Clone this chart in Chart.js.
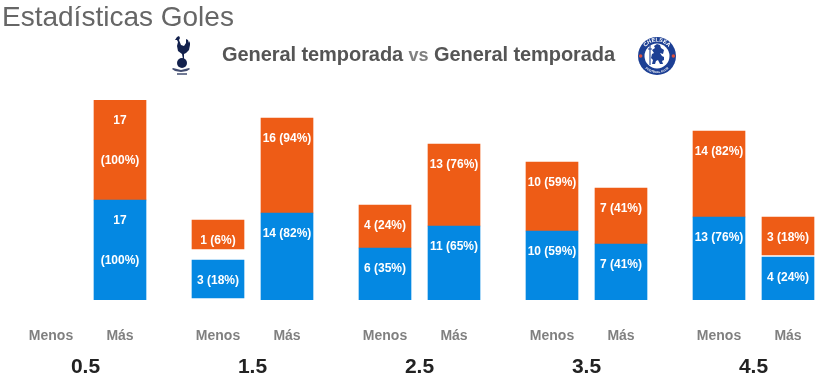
<!DOCTYPE html>
<html lang="es">
<head>
<meta charset="utf-8">
<title>Estadísticas Goles</title>
<script src="https://cdn.jsdelivr.net/npm/chart.js@4"></script>
<style>
html,body{margin:0;padding:0;background:#fff;overflow:hidden}
#wrap{position:relative;width:837px;height:382px;font-family:"Liberation Sans",Arial,sans-serif}
canvas{position:absolute;left:0;top:0}
.t{position:absolute;white-space:nowrap}
#main{left:2px;top:-1px;font-size:28px;line-height:36px;color:#666}
#sub{left:222px;top:42px;font-size:20px;line-height:24px;font-weight:bold;color:#555;letter-spacing:-0.07px}
#sub span{font-size:18px;color:#808080}
svg{position:absolute}
</style>
</head>
<body>
<div id="wrap">
<canvas id="c" width="837" height="382"></canvas>
<div class="t" id="main">Estadísticas Goles</div>
<div class="t" id="sub">General temporada <span>vs</span> General temporada</div>
<svg style="left:170px;top:35px" width="24" height="43" viewBox="0 0 24 43">
  <g fill="#13214d">
    <path d="M7 2l2-1 1 2-1 2 2 5 3 1 2-3 0-4 2 1 1 3 1-2 0 4-1 5-3 3-2 1 0 5h-1l-1-5-4-3-1-5 1-4-1-2-2 0z"/>
    <circle cx="12" cy="28" r="5"/>
    <path d="M3 33l8 2 8-2 1 1-3 2-6 1-6-1-3-2z" opacity=".8"/>
    <rect x="7" y="38" width="10" height="2" opacity=".6"/>
  </g>
</svg>
<svg style="left:637px;top:36px" width="40" height="40" viewBox="0 0 40 40">
  <circle cx="20" cy="20" r="19" fill="#1c3f94"/>
  <circle cx="20" cy="20" r="12.5" fill="#fff"/>
  <defs>
    <path id="arcTop" d="M5.5 20a14.5 14.5 0 0 1 29 0"/>
    <path id="arcBottom" d="M3 20a17 17 0 0 0 34 0"/>
  </defs>
  <text font-family="Liberation Sans" font-size="5.5" font-weight="bold" fill="#fff" text-anchor="middle"><textPath href="#arcTop" startOffset="50%">CHELSEA</textPath></text>
  <text font-family="Liberation Sans" font-size="3" font-weight="bold" fill="#fff" text-anchor="middle"><textPath href="#arcBottom" startOffset="50%">FOOTBALL CLUB</textPath></text>
  <circle cx="3.6" cy="20" r="1.8" fill="#d8503f"/>
  <circle cx="36.4" cy="20" r="1.8" fill="#d8503f"/>
  <path d="M17 10l3-2 3 1 1 3 3 2-1 4-3-1 2 3 2 1 0 3-2 1 1 3-3 0-2-4-2 1-1 3-3 0 1-4-2-2 1-4 2-1-2-3 3-2z" fill="#1c3f94"/>
  <path d="M13 9v20M11 13h4" stroke="#1c3f94" stroke-width="1.1" fill="none"/>
</svg>
</div>
<script>
const groupLabels = ['0.5', '1.5', '2.5', '3.5', '4.5'];
const sideLabels = ['Menos', 'Más'];

const blueCounts   = [null, 17, 3, 14, 6, 11, 10, 7, 13, 4];
const bluePercents = [null, 100, 18, 82, 35, 65, 59, 41, 76, 24];
const blueFrom     = [null, 0, 2, 0, 0, 0, 0, 0, 0, 0];
const blueTo       = [null, 100, 40, 87, 52, 74, 69, 56, 83, 43];

const orangeCounts   = [null, 17, 1, 16, 4, 13, 10, 7, 14, 3];
const orangePercents = [null, 100, 6, 94, 24, 76, 59, 41, 82, 18];
const orangeFrom     = [null, 100, 51, 87, 52, 74, 69, 56, 83, 45];
const orangeTo       = [null, 200, 80, 182, 95, 156, 138, 112, 169, 83];

const BLUE = '#0488e2', ORANGE = '#ee5c16';
const MAS_OFFSET = 69 / 167, GROUP_CENTER = MAS_OFFSET / 2;
const X_MIN = -51 / 167, X_MAX = (837 - 51) / 167;

const slots = groupLabels.flatMap((_, g) => sideLabels.map((_, s) => g + s * MAS_OFFSET));
const sideTicks = slots.map(v => ({ value: v }));
const groupTicks = groupLabels.map((_, g) => ({ value: g + GROUP_CENTER }));

function ranges(from, to) {
  return slots.map((x, i) => to[i] === null ? null : { x, y: [from[i], to[i]] })
              .filter(Boolean);
}
function texts(counts, percents) {
  return counts.map((c, i) => c === null ? null : `${c} (${percents[i]}%)`).filter(Boolean);
}

const barLabels = {
  id: 'barLabels',
  afterDatasetsDraw(chart) {
    const ctx = chart.ctx;
    ctx.save();
    ctx.fillStyle = '#fff';
    ctx.font = 'bold 12px "Liberation Sans", Arial, sans-serif';
    ctx.textAlign = 'center';
    ctx.textBaseline = 'middle';
    chart.data.datasets.forEach((ds, d) => {
      chart.getDatasetMeta(d).data.forEach((bar, i) => {
        const text = ds.valueTexts[i];
        const lines = ctx.measureText(text).width > 52 ? text.split(' ') : [text];
        lines.forEach((line, l) => ctx.fillText(line, bar.x, bar.y + 21 + l * 40));
      });
    });
    ctx.restore();
  }
};

function bottomAxis(ticks, labels, font, color, padding, height) {
  return {
    type: 'linear', position: 'bottom', min: X_MIN, max: X_MAX, offset: false,
    grid: { display: false }, border: { display: false },
    afterBuildTicks(axis) { axis.ticks = ticks.map(t => ({ ...t })); },
    afterFit(axis) { axis.height = height; },
    ticks: {
      autoSkip: false, maxRotation: 0, minRotation: 0, padding, color,
      font: { family: '"Liberation Sans", Arial, sans-serif', weight: 'bold', size: font },
      callback: (value, index) => labels[index]
    }
  };
}

new Chart(document.getElementById('c'), {
  type: 'bar',
  plugins: [barLabels],
  data: {
    datasets: [
      { label: 'Azul', data: ranges(blueFrom, blueTo), backgroundColor: BLUE,
        valueTexts: texts(blueCounts, bluePercents), barThickness: 52, grouped: false, xAxisID: 'x' },
      { label: 'Naranja', data: ranges(orangeFrom, orangeTo), backgroundColor: ORANGE,
        valueTexts: texts(orangeCounts, orangePercents), barThickness: 52, grouped: false, xAxisID: 'x' }
    ]
  },
  options: {
    responsive: false, animation: false,
    layout: { padding: { top: 100, left: 0, right: 0, bottom: 0 } },
    plugins: { legend: { display: false }, tooltip: { enabled: false }, title: { display: false } },
    scales: {
      x: bottomAxis(sideTicks, groupLabels.flatMap(() => sideLabels), 14, '#808080', 20, 41),
      x2: bottomAxis(groupTicks, groupLabels, 21, '#222222', 6, 41),
      y: { display: false, min: 0, max: 200 }
    }
  }
});
</script>
</body>
</html>
